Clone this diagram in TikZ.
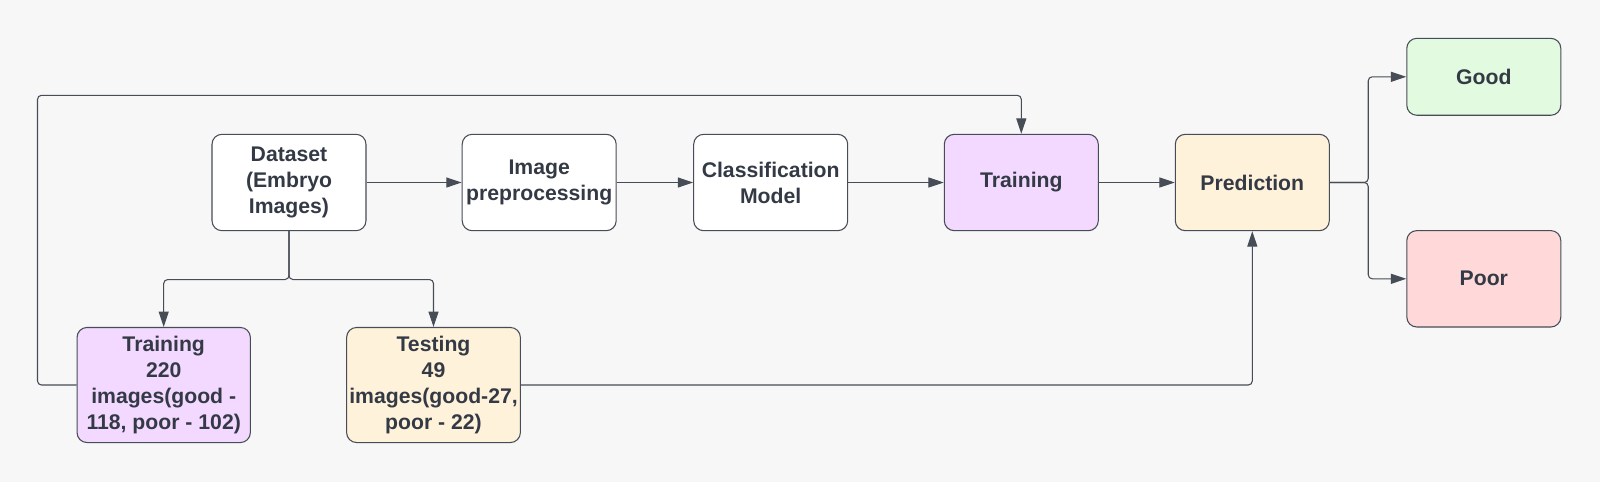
\documentclass[tikz,border=0pt]{standalone}
\usepackage{fontspec}
\setmainfont{Liberation Sans}
\usetikzlibrary{arrows.meta}
\definecolor{bgc}{HTML}{F7F7F7}
\definecolor{ink}{HTML}{343A45}
\definecolor{edge}{HTML}{474D56}
\definecolor{purp}{HTML}{F3D9FF}
\definecolor{yel}{HTML}{FFF2DA}
\definecolor{grn}{HTML}{E2FADF}
\definecolor{rd}{HTML}{FFD9D9}
\tikzset{
  box/.style={draw=edge, line width=0.8pt, rounded corners=7.5pt, fill=white,
    minimum width=115.5pt, minimum height=72.3pt, inner sep=2pt, align=center,
    text=ink, font=\bfseries\fontsize{15.9pt}{19.4pt}\selectfont},
  bigbox/.style={box, minimum width=130pt, minimum height=86.3pt},
  conn/.style={draw=edge, line width=0.8pt, rounded corners=3pt,
    -{Triangle[length=11.5pt,width=7.5pt]}},
}
\begin{document}
\begin{tikzpicture}[x=0.75pt,y=-0.75pt]
\fill[bgc] (0,0) rectangle (1600,482);
\useasboundingbox (0,0) rectangle (1600,482);
\node[box] (dataset) at (289,182.5) {Dataset\\(Embryo\\Images)};
\node[box] (imgpre) at (539.2,182.5) {Image\\preprocessing};
\node[box] (classm) at (770.7,182.5) {Classification\\Model};
\node[box, fill=purp] (train) at (1021.3,182.5) {Training};
\node[box, fill=yel] (pred) at (1252.3,182.5) {Prediction};
\node[box, fill=grn, minimum height=57.7pt] (good) at (1483.8,76.8) {Good};
\node[box, fill=rd] (poor) at (1483.8,278.8) {Poor};
\node[bigbox, fill=purp] (trainset) at (163.7,385) {Training\\220\\images(good -\\118, poor - 102)};
\node[bigbox, fill=yel] (testset) at (433.5,385) {Testing\\49\\images(good-27,\\poor - 22)};
\draw[conn] (dataset) -- (imgpre);
\draw[conn] (imgpre) -- (classm);
\draw[conn] (classm) -- (train);
\draw[conn] (train) -- (pred);
\draw[conn] (dataset.south) -- ++(0,48.3) -| (trainset.north);
\draw[conn] (dataset.south) -- ++(0,48.3) -| (testset.north);
\draw[conn] (trainset.west) -- ++(-39,0) -- ++(0,-289.7) -| (train.north);
\draw[conn] (testset.east) -| (pred.south);
\draw[conn] (pred.east) -- ++(38.4,0) |- (good.west);
\draw[conn] (pred.east) -- ++(38.4,0) |- (poor.west);
\end{tikzpicture}
\end{document}
